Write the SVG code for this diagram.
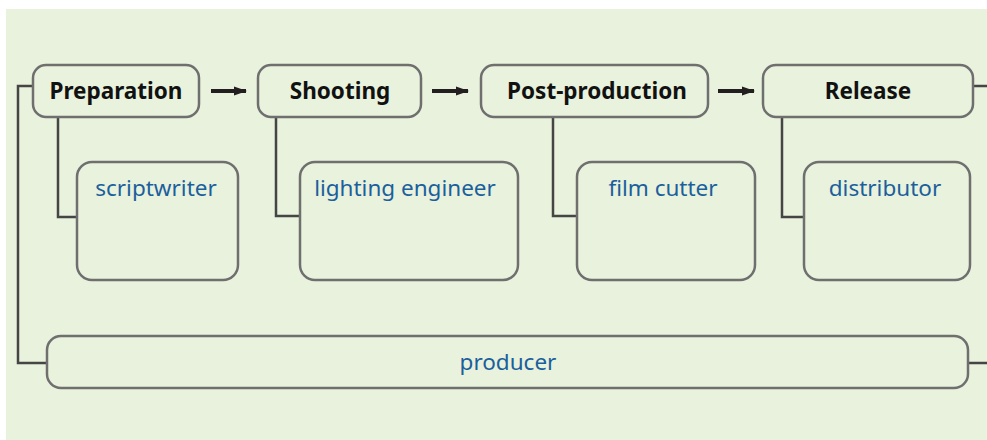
<svg xmlns="http://www.w3.org/2000/svg" width="987" height="440" viewBox="0 0 987 440">
<style>
.box{fill:none;stroke:#6f6f6f;stroke-width:2.5}
.conn{fill:none;stroke:#454545;stroke-width:2.5}
.arr{fill:none;stroke:#231f20;stroke-width:4}
.stage{font-family:"Noto Sans","Open Sans",sans-serif;font-weight:bold;font-size:22.5px;fill:#111;text-anchor:middle}
.role{font-family:"Noto Sans","Open Sans",sans-serif;font-size:22.5px;fill:#1b5f9c;text-anchor:middle}
</style>
<defs>
<marker id="ah" markerWidth="13" markerHeight="11" refX="12" refY="5.5" orient="auto" markerUnits="userSpaceOnUse">
<path d="M0,1 L13,5.5 L0,10 Z" fill="#231f20"/>
</marker>
</defs>
<rect x="6" y="9" width="981" height="431" fill="#e8f2dc"/>
<g id="connectors">
<path class="conn" d="M33,86 H18 V363 H47"/>
<path class="conn" d="M973,86 H990 M968,363 H990"/>
<path class="conn" d="M58,117 V217 H77"/>
<path class="conn" d="M276,117 V216 H300"/>
<path class="conn" d="M553,117 V216 H577"/>
<path class="conn" d="M782,117 V217 H804"/>
<line class="arr" x1="211" y1="91" x2="246" y2="91" marker-end="url(#ah)"/>
<line class="arr" x1="432" y1="91" x2="468" y2="91" marker-end="url(#ah)"/>
<line class="arr" x1="718" y1="91" x2="754" y2="91" marker-end="url(#ah)"/>
</g>
<g id="preparation">
<rect class="box" x="33" y="65" width="166" height="52" rx="13"/>
<text class="stage" x="116" y="99">Preparation</text>
</g>
<g id="shooting">
<rect class="box" x="258" y="65" width="163" height="52" rx="13"/>
<text class="stage" x="340" y="99">Shooting</text>
</g>
<g id="post-production">
<rect class="box" x="481" y="65" width="227" height="52" rx="13"/>
<text class="stage" x="597" y="99">Post-production</text>
</g>
<g id="release">
<rect class="box" x="763" y="65" width="210" height="52" rx="13"/>
<text class="stage" x="868" y="99">Release</text>
</g>
<g id="scriptwriter">
<rect class="box" x="77" y="162" width="161" height="118" rx="15"/>
<text class="role" x="156" y="196">scriptwriter</text>
</g>
<g id="lighting-engineer">
<rect class="box" x="300" y="162" width="218" height="118" rx="15"/>
<text class="role" x="405" y="196">lighting engineer</text>
</g>
<g id="film-cutter">
<rect class="box" x="577" y="162" width="178" height="118" rx="15"/>
<text class="role" x="663" y="196">film cutter</text>
</g>
<g id="distributor">
<rect class="box" x="804" y="162" width="166" height="118" rx="15"/>
<text class="role" x="885" y="196">distributor</text>
</g>
<g id="producer">
<rect class="box" x="47" y="336" width="921" height="52" rx="14"/>
<text class="role" x="508" y="370">producer</text>
</g>
</svg>
